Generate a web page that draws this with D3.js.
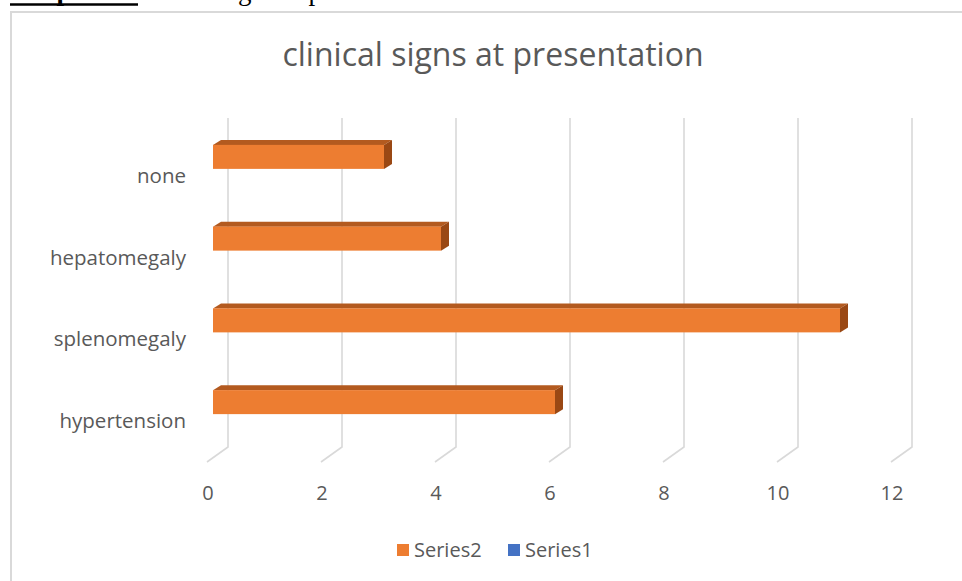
<!DOCTYPE html>
<html>
<head>
<meta charset="utf-8">
<script src="https://cdn.jsdelivr.net/npm/d3@7"></script>
<style>
  html, body { margin: 0; padding: 0; background: #fff; }
  svg { display: block; }
</style>
</head>
<body>
<svg id="chart" width="962" height="581"></svg>
<script>
// Clinical signs at presentation (3-D clustered bar, horizontal)
const categories = ["none", "hepatomegaly", "splenomegaly", "hypertension"];
const series2 = [3, 4, 11, 6];
const series1 = [0, 0, 0, 0];
const xTicks = [0, 2, 4, 6, 8, 10, 12];
const legendItems = [
  { name: "Series2", color: "#ED7D31" },
  { name: "Series1", color: "#4472C4" }
];

const svg = d3.select("#chart");
const font = "'Open Sans', 'Noto Sans', sans-serif";
const textGrey = "#595959";

// document caption line sitting above the chart frame
const cap = svg.append("text")
  .attr("x", 10).attr("y", 0)
  .attr("font-family", "'Liberation Serif', 'Times New Roman', serif")
  .attr("font-size", 27).attr("fill", "#000");
cap.append("tspan").attr("font-weight", "bold").text("Graph 1");
cap.append("tspan").text(" :  Clinical signs at presentation.");
svg.append("line")
  .attr("x1", 10).attr("x2", 138).attr("y1", 4.5).attr("y2", 4.5)
  .attr("stroke", "#000").attr("stroke-width", 2.5);

// chart frame
svg.append("rect")
  .attr("x", 11).attr("y", 12).attr("width", 980).attr("height", 600)
  .attr("fill", "none").attr("stroke", "#d9d9d9").attr("stroke-width", 2);

// title
svg.append("text")
  .attr("x", 493).attr("y", 66)
  .attr("text-anchor", "middle")
  .attr("font-family", font).attr("font-size", 32).attr("fill", textGrey)
  .text("clinical signs at presentation");

// back wall scale (gridlines) and projection depth
const x = d3.scaleLinear().domain([0, 12]).range([228, 912]);
const wallTop = 118, wallBottom = 447;
const depth = { dx: 21, dy: 15 };   // back-to-front offset of the floor

const y = d3.scaleBand().domain(categories).range([135, 462]);

const grid = svg.append("g").attr("fill", "none")
  .attr("stroke", "#d9d9d9").attr("stroke-width", 1.6);
grid.selectAll("path").data(xTicks).join("path")
  .attr("d", d => `M${x(d)},${wallTop}V${wallBottom}l${-depth.dx},${depth.dy}`);

// tick labels along the front edge of the floor
svg.append("g").selectAll("text").data(xTicks).join("text")
  .attr("x", d => x(d) - depth.dx + 1)
  .attr("y", 500)
  .attr("text-anchor", "middle")
  .attr("font-family", font).attr("font-size", 20).attr("fill", textGrey)
  .text(d => d);

// category labels
svg.append("g").selectAll("text").data(categories).join("text")
  .attr("x", 186)
  .attr("y", d => y(d) + y.bandwidth() / 2 + 7)
  .attr("text-anchor", "end")
  .attr("font-family", font).attr("font-size", 20.5).attr("fill", textGrey)
  .text(d => d);

// 3-D bars: front face, top face, right end face
const front0 = x(0) - 15;          // front-face x of value 0
const unit = x(1) - x(0);
const barH = 24, bd = { dx: 8, dy: 5 };
const bars = svg.append("g").selectAll("g")
  .data(categories.map((c, i) => ({ c, v: series2[i] })))
  .join("g");

bars.each(function (d) {
  const g = d3.select(this);
  const x0 = front0, x1 = front0 + d.v * unit;
  const yc = y(d.c) + y.bandwidth() / 2 - 19;
  const t = yc - barH / 2, b = yc + barH / 2;
  g.append("path")
    .attr("d", `M${x0},${t}l${bd.dx},${-bd.dy}H${x1 + bd.dx}l${-bd.dx},${bd.dy}Z`)
    .attr("fill", "#B35A1F");
  g.append("path")
    .attr("d", `M${x1},${t}l${bd.dx},${-bd.dy}V${b - bd.dy}l${-bd.dx},${bd.dy}Z`)
    .attr("fill", "#9A4814");
  g.append("rect")
    .attr("x", x0).attr("y", t)
    .attr("width", x1 - x0).attr("height", barH)
    .attr("fill", "#ED7D31");
});

// legend
const legend = svg.append("g");
const lx = [397, 508];
legendItems.forEach((it, i) => {
  legend.append("rect")
    .attr("x", lx[i]).attr("y", 544).attr("width", 12).attr("height", 12)
    .attr("fill", it.color);
  legend.append("text")
    .attr("x", lx[i] + 17).attr("y", 556.5)
    .attr("font-family", font).attr("font-size", 20).attr("fill", textGrey)
    .text(it.name);
});
</script>
</body>
</html>
